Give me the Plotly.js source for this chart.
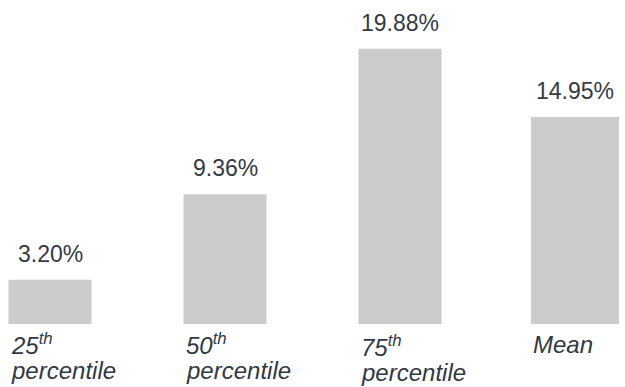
<!DOCTYPE html>
<html>
<head>
<meta charset="utf-8">
<script src="https://cdn.plot.ly/plotly-3.0.1.min.js"></script>
<style>html,body{margin:0;padding:0;background:#fff;}#chart{width:625px;height:387px;}</style>
</head>
<body>
<div id="chart"></div>
<script>
// Data
var categories = ['25<sup>th</sup><br>percentile', '50<sup>th</sup><br>percentile', '75<sup>th</sup><br>percentile', 'Mean'];
var values = [3.20, 9.36, 19.88, 14.95];
var valueLabels = ['3.20%', '9.36%', '19.88%', '14.95%'];

var W = 625, H = 387;
var pxPerUnitX = 175, firstCenterPx = 50;
var zeroPx = 324, pxPerUnitY = 13.85;
var barW = 83 / pxPerUnitX;
var widths = values.map(function (_, i) { return i === values.length - 1 ? 88 / pxPerUnitX : barW; });

var xs = categories.map(function (_, i) { return i; });
var x0 = -firstCenterPx / pxPerUnitX;
var y0 = -(H - zeroPx) / pxPerUnitY;

var fontFam = 'Arial, "Liberation Sans", Helvetica, sans-serif';
var annotations = [];
values.forEach(function (v, i) {
  annotations.push({
    x: i, y: v, xref: 'x', yref: 'y', text: valueLabels[i],
    showarrow: false, xanchor: 'center', yanchor: 'bottom', yshift: 11,
    font: {family: fontFam, size: 23, color: '#333a44'}
  });
});
categories.forEach(function (c, i) {
  var lines = c.split('<br>');
  var extra = (i === 2) ? 2 : 0;
  lines.forEach(function (ln, j) {
    annotations.push({
      x: i - widths[i] / 2, xref: 'x', xanchor: 'left', xshift: 0,
      y: 1 - (344 + extra + j * 26.5) / H, yref: 'paper', yanchor: 'middle',
      text: '<i>' + ln + '</i>', showarrow: false, align: 'left',
      font: {family: fontFam, size: 24, color: '#303944'}
    });
  });
});

var trace = {
  type: 'bar', x: xs, y: values, width: widths,
  marker: {color: '#cccccc'}, hoverinfo: 'skip'
};

var layout = {
  width: W, height: H,
  margin: {l: 0, r: 0, t: 0, b: 0, pad: 0},
  paper_bgcolor: '#ffffff', plot_bgcolor: '#ffffff',
  showlegend: false,
  xaxis: {range: [x0, x0 + W / pxPerUnitX], visible: false, fixedrange: true},
  yaxis: {range: [y0, y0 + H / pxPerUnitY], visible: false, fixedrange: true},
  annotations: annotations
};

Plotly.newPlot('chart', [trace], layout, {displayModeBar: false, staticPlot: true});
</script>
</body>
</html>
